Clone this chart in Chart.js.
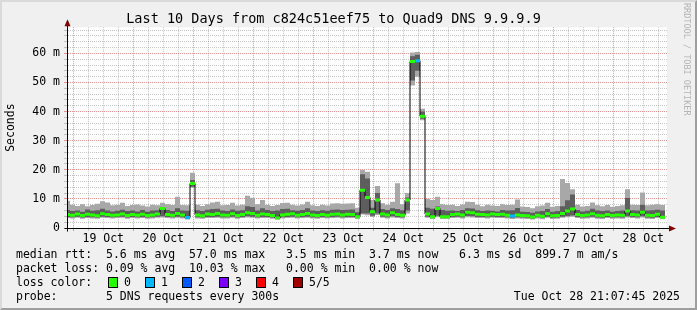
<!DOCTYPE html>
<html>
<head>
<meta charset="utf-8">
<script src="https://cdn.jsdelivr.net/npm/chart.js@4.4.1/dist/chart.umd.min.js"></script>
<style>
  html, body { margin: 0; padding: 0; background: #f0f0f0; }
  #wrap { position: relative; width: 697px; height: 310px; overflow: hidden; background: #f0f0f0;
          font-family: 'DejaVu Sans Mono', monospace; color: #000; }
  #wrap canvas { position: absolute; left: 0; top: 0; }
  .row { position: absolute; left: 16px; font-size: 11.5px; line-height: 14px; white-space: pre; }
  .box { position: absolute; top: 277px; width: 8px; height: 9px; border: 1px solid #000; }
  .lab { position: absolute; top: 275px; font-size: 11.5px; line-height: 14px; white-space: pre; }
  #date { position: absolute; right: 17px; top: 289px; font-size: 11.5px; line-height: 14px; white-space: pre; }
  #mark { position: absolute; left: 682px; top: 3px; font-size: 8.5px; line-height: 9px;
          writing-mode: vertical-rl; color: #b4b4b4; white-space: pre; }
  #frame { position: absolute; left: 0; top: 0; width: 697px; height: 310px; box-sizing: border-box;
           border: 2px solid; border-color: #dadada #9e9e9e #9e9e9e #dadada; pointer-events: none; }
</style>
</head>
<body>
<div id="wrap">
  <canvas id="myChart" width="697" height="310"></canvas>
  <div class="row" style="top:247px">median rtt:  5.6 ms avg  57.0 ms max   3.5 ms min  3.7 ms now   6.3 ms sd  899.7 m am/s</div>
  <div class="row" style="top:261px">packet loss: 0.09 % avg  10.03 % max   0.00 % min  0.00 % now</div>
  <div class="row" style="top:275px">loss color:</div>
  <div id="lossLegend"></div>
  <div class="row" style="top:289px">probe:       5 DNS requests every 300s</div>
  <div id="date">Tue Oct 28 21:07:45 2025</div>
  <div id="mark">RRDTOOL / TOBI OETIKER</div>
  <div id="frame"></div>
</div>
<script>
// hours since 19 Oct 00:00, one step = 2 hours
const startHour = -3.3;
const stepHours = 2;

// light smoke (outer pings), ms
const hi = [9.4, 8.0, 7.6, 8.2, 7.5, 7.9, 8.3, 9.2, 8.8, 7.8,
  8.0, 8.7, 7.6, 7.9, 8.1, 7.7, 7.4, 8.0, 7.8, 8.7,
  8.2, 7.9, 10.7, 7.9, 7.8, 19.0, 8.0, 7.6, 8.2, 8.8,
  9.0, 7.8, 7.9, 8.7, 7.7, 8.0, 11.1, 10.4, 8.2, 9.6,
  8.0, 7.6, 7.9, 8.6, 8.7, 8.0, 7.7, 8.1, 9.0, 7.8,
  7.6, 8.0, 7.7, 8.4, 8.5, 8.3, 8.4, 8.5, 7.0, 19.9,
  19.3, 9.6, 14.4, 8.5, 8.0, 9.0, 15.4, 8.2, 12.0, 60.3,
  60.5, 41.0, 10.0, 9.6, 10.7, 8.2, 7.9, 8.0, 7.6, 8.1,
  9.0, 8.9, 8.0, 7.5, 8.0, 7.7, 7.6, 8.2, 7.9, 8.0,
  9.8, 7.4, 7.2, 6.8, 7.5, 7.7, 8.7, 7.3, 7.6, 16.8,
  15.5, 13.3, 8.0, 7.4, 7.6, 8.8, 7.8, 7.5, 7.9, 7.3,
  7.6, 7.8, 13.3, 8.0, 7.9, 12.2, 7.8, 8.0, 8.2, 7.9, 7.9];
const lo = [3.4, 3.3, 3.5, 3.2, 3.4, 3.3, 3.2, 3.5, 3.4, 3.3,
  3.4, 3.5, 3.2, 3.4, 3.3, 3.4, 3.2, 3.3, 3.5, 3.6,
  3.4, 3.3, 3.5, 3.3, 2.9, 13.8, 3.3, 3.2, 3.4, 3.4,
  3.5, 3.3, 3.3, 3.5, 3.2, 3.4, 3.6, 3.5, 3.3, 3.4,
  3.4, 3.2, 2.9, 3.3, 3.4, 3.5, 3.3, 3.4, 3.5, 3.3,
  3.2, 3.4, 3.3, 3.4, 3.5, 3.3, 3.4, 3.4, 3.1, 4.6,
  4.4, 3.8, 4.5, 3.5, 3.3, 3.6, 3.4, 3.3, 5.0, 49.0,
  52.0, 37.0, 3.5, 3.1, 3.8, 3.1, 3.1, 3.4, 3.5, 3.3,
  3.7, 3.6, 3.4, 3.4, 3.3, 3.5, 3.4, 3.4, 3.3, 3.1,
  3.3, 3.2, 3.1, 2.9, 3.3, 3.0, 3.5, 3.1, 3.2, 3.5,
  3.7, 3.9, 3.4, 3.2, 3.3, 3.5, 3.2, 3.1, 3.4, 3.2,
  3.3, 3.2, 3.6, 3.4, 3.3, 3.6, 3.2, 3.1, 3.4, 3.0, 3.0];

// dark smoke (inner pings), ms
const dhi = [6.2, 5.8, 6.0, 5.6, 6.4, 5.9, 6.1, 6.6, 6.0, 5.7,
  5.9, 6.3, 5.8, 6.0, 5.7, 6.2, 5.6, 6.0, 6.1, 7.0,
  6.2, 5.8, 6.8, 6.0, 5.9, 16.5, 6.1, 5.8, 6.3, 6.5,
  6.6, 6.0, 5.8, 6.4, 5.9, 6.1, 7.5, 7.2, 6.0, 6.8,
  6.2, 5.8, 6.0, 6.5, 6.6, 6.1, 5.9, 6.2, 6.8, 6.0,
  5.8, 6.1, 5.9, 6.3, 6.4, 6.2, 6.3, 6.4, 5.4, 18.5,
  17.0, 7.0, 12.0, 6.5, 6.2, 6.8, 6.5, 6.1, 10.5, 59.0,
  59.5, 40.0, 7.0, 6.6, 7.4, 6.2, 5.9, 6.0, 5.8, 6.2,
  6.8, 6.7, 6.1, 5.8, 6.0, 5.9, 5.7, 6.2, 6.0, 6.1,
  6.9, 5.6, 5.5, 5.2, 5.7, 5.8, 6.5, 5.6, 5.8, 7.5,
  9.5, 11.5, 6.2, 5.7, 5.9, 6.6, 6.0, 5.8, 6.0, 5.6,
  5.8, 6.0, 10.3, 6.1, 6.0, 8.0, 6.0, 6.1, 6.3, 6.0, 6.0];
const dlo = [3.8, 3.7, 3.9, 3.6, 3.8, 3.7, 3.6, 3.9, 3.8, 3.7,
  3.8, 3.9, 3.6, 3.8, 3.7, 3.8, 3.6, 3.7, 3.9, 4.0,
  3.8, 3.7, 3.9, 3.7, 3.3, 14.2, 3.7, 3.6, 3.8, 3.8,
  3.9, 3.7, 3.7, 3.9, 3.6, 3.8, 4.0, 3.9, 3.7, 3.8,
  3.8, 3.6, 3.2, 3.7, 3.8, 3.9, 3.7, 3.8, 3.9, 3.7,
  3.6, 3.8, 3.7, 3.8, 3.9, 3.7, 3.8, 3.8, 3.4, 5.0,
  5.0, 4.2, 5.0, 3.9, 3.7, 4.0, 3.8, 3.7, 6.0, 50.7,
  54.0, 37.5, 3.9, 3.5, 4.2, 3.5, 3.5, 3.8, 3.9, 3.7,
  4.1, 4.0, 3.8, 3.8, 3.7, 3.9, 3.8, 3.8, 3.7, 3.5,
  3.7, 3.6, 3.5, 3.3, 3.7, 3.4, 3.9, 3.5, 3.6, 3.9,
  4.1, 4.3, 3.8, 3.6, 3.7, 3.9, 3.6, 3.5, 3.8, 3.6,
  3.7, 3.6, 4.0, 3.8, 3.7, 4.0, 3.6, 3.5, 3.8, 3.4, 3.4];

// median rtt, ms
const med = [4.6, 4.4, 4.8, 4.3, 4.7, 4.5, 4.2, 4.9, 4.6, 4.4,
  4.5, 4.8, 4.3, 4.6, 4.4, 4.7, 4.3, 4.5, 4.8, 6.7,
  4.6, 4.4, 5.0, 4.5, 3.6, 15.3, 4.5, 4.2, 4.8, 4.6,
  5.0, 4.5, 4.4, 4.9, 4.3, 4.6, 5.2, 5.0, 4.4, 4.8,
  4.6, 4.3, 3.4, 4.5, 4.7, 4.9, 4.4, 4.6, 5.0, 4.5,
  4.3, 4.6, 4.4, 4.7, 4.8, 4.5, 4.7, 4.6, 3.9, 13.0,
  10.5, 5.6, 9.6, 4.8, 4.5, 5.2, 4.6, 4.4, 9.6, 57.2,
  57.5, 38.4, 4.8, 3.9, 6.7, 3.9, 3.9, 4.6, 4.8, 4.5,
  5.4, 5.2, 4.7, 4.6, 4.5, 4.8, 4.6, 4.7, 4.4, 4.1,
  4.5, 4.3, 4.2, 3.8, 4.4, 4.0, 4.9, 4.2, 4.3, 5.0,
  5.8, 6.5, 4.6, 4.3, 4.5, 4.9, 4.4, 4.2, 4.6, 4.3,
  4.5, 4.4, 5.8, 4.6, 4.5, 5.4, 4.4, 4.3, 4.7, 3.7, 3.7];

// lost pings per step (0..5)
const loss = [0, 0, 0, 0, 0, 0, 0, 0, 0, 0,
  0, 0, 0, 0, 0, 0, 0, 0, 0, 0,
  0, 0, 0, 0, 1, 0, 0, 0, 0, 0,
  0, 0, 0, 0, 0, 0, 0, 0, 0, 0,
  0, 0, 0, 0, 0, 0, 0, 0, 0, 0,
  0, 0, 0, 0, 0, 0, 0, 0, 0, 0,
  0, 0, 0, 0, 0, 0, 0, 0, 0, 0,
  1, 0, 0, 0, 0, 0, 0, 0, 0, 0,
  0, 0, 0, 0, 0, 0, 0, 0, 0, 1,
  0, 0, 0, 0, 0, 0, 0, 0, 0, 0,
  0, 0, 0, 0, 0, 0, 0, 0, 0, 0,
  0, 0, 0, 0, 0, 0, 0, 0, 0, 0, 0];

const dayLabels = ["19 Oct", "20 Oct", "21 Oct", "22 Oct", "23 Oct", "24 Oct", "25 Oct", "26 Oct", "27 Oct", "28 Oct"];
const yLabels = ["0", "10 m", "20 m", "30 m", "40 m", "50 m", "60 m"];
const lossNames = ["0", "1", "2", "3", "4", "5/5"];
const lossColors = ["#26ff00", "#00b8ff", "#0059ff", "#7e00ff", "#ff0000", "#a10000"];

const minorGrid = "rgba(143,143,143,0.5)";
const majorGrid = "rgba(222,80,80,0.6)";

// legend boxes
const boxX = [108, 145, 182, 219, 256, 293];
const legendDiv = document.getElementById("lossLegend");
lossNames.forEach((name, i) => {
  const b = document.createElement("div");
  b.className = "box";
  b.style.left = boxX[i] + "px";
  b.style.background = lossColors[i];
  legendDiv.appendChild(b);
  const l = document.createElement("div");
  l.className = "lab";
  l.style.left = (boxX[i] + 16) + "px";
  l.textContent = name;
  legendDiv.appendChild(l);
});

const times = med.map((_, i) => startHour + i * stepHours);
// each value holds from its own time to the next one
const pts = arr => arr.map((v, i) => ({ x: times[i], y: v }));

// median as short bars, one per step (no vertical parts)
const medBars = [];
for (let i = 0; i < med.length - 1; i++) {
  medBars.push({ x: times[i], y: med[i] }, { x: times[i + 1], y: med[i] }, { x: times[i + 1], y: null });
}

const xGrid = [];
for (let h = 0; h <= 234; h += 6) xGrid.push(h);
const yGrid = [];
for (let v = 0; v <= 68; v += 2) yGrid.push(v);

const plotBg = {
  id: "plotBg",
  beforeDraw(chart) {
    const { ctx, chartArea: a } = chart;
    ctx.save();
    ctx.fillStyle = "#ffffff";
    ctx.fillRect(a.left, a.top, a.right - a.left, a.bottom - a.top);
    ctx.restore();
  }
};

const axisArrows = {
  id: "axisArrows",
  afterDraw(chart) {
    const { ctx, chartArea: a } = chart;
    const x0 = Math.round(a.left) + 0.5, y0 = Math.round(a.bottom) + 0.5;
    ctx.save();
    ctx.strokeStyle = "#000";
    ctx.lineWidth = 1;
    ctx.beginPath();
    ctx.moveTo(x0 - 3, y0); ctx.lineTo(a.right + 3, y0);
    ctx.moveTo(x0, y0 + 3); ctx.lineTo(x0, a.top - 2);
    ctx.stroke();
    ctx.fillStyle = "#7f0000";
    ctx.beginPath();
    ctx.moveTo(x0, a.top - 8); ctx.lineTo(x0 - 3, a.top - 1); ctx.lineTo(x0 + 3, a.top - 1);
    ctx.closePath(); ctx.fill();
    ctx.beginPath();
    ctx.moveTo(a.right + 9, y0); ctx.lineTo(a.right + 2, y0 - 3); ctx.lineTo(a.right + 2, y0 + 3);
    ctx.closePath(); ctx.fill();
    ctx.restore();
  }
};

Chart.defaults.font.family = "'DejaVu Sans Mono', monospace";
Chart.defaults.color = "#000";

const ctx = document.getElementById("myChart").getContext("2d");
const myChart = new Chart(ctx, {
  type: "line",
  data: {
    datasets: [
      {
        data: medBars,
        borderColor: lossColors[0],
        borderWidth: 3,
        borderCapStyle: "butt",
        pointRadius: 0,
        spanGaps: false,
        segment: { borderColor: c => lossColors[loss[Math.floor(c.p0DataIndex / 3)]] }
      },
      { data: pts(med), stepped: "before", borderColor: "#000", borderWidth: 1, pointRadius: 0 },
      { data: pts(dhi), stepped: "before", borderWidth: 0, borderColor: "transparent", pointRadius: 0, fill: "+1", backgroundColor: "#5e5e5e" },
      { data: pts(dlo), stepped: "before", borderWidth: 0, borderColor: "transparent", pointRadius: 0 },
      { data: pts(hi), stepped: "before", borderWidth: 0, borderColor: "transparent", pointRadius: 0, fill: "+1", backgroundColor: "#a8a8a8" },
      { data: pts(lo), stepped: "before", borderWidth: 0, borderColor: "transparent", pointRadius: 0 }
    ]
  },
  options: {
    responsive: false,
    animation: false,
    events: [],
    layout: { padding: { left: 0, right: 30, top: 0, bottom: 0 } },
    plugins: {
      legend: { display: false },
      tooltip: { enabled: false },
      title: {
        display: true,
        text: "Last 10 Days from c824c51eef75 to Quad9 DNS 9.9.9.9",
        color: "#000",
        font: { size: 13.5, weight: "normal" },
        padding: { top: 11, bottom: 0 }
      }
    },
    scales: {
      x: {
        type: "linear",
        min: -2.5,
        max: 237.5,
        afterBuildTicks: s => { s.ticks = xGrid.map(v => ({ value: v })); },
        afterFit: s => { s.height = 82; },
        grid: {
          color: c => (c.tick && c.tick.value % 24 === 0) ? majorGrid : minorGrid,
          tickColor: c => (c.tick && c.tick.value % 24 === 0) ? majorGrid : minorGrid,
          tickLength: 3
        },
        border: { color: "#000", dash: [1, 1] },
        ticks: {
          autoSkip: false,
          maxRotation: 0,
          padding: 1,
          font: { size: 11.5 },
          callback: v => (v % 24 === 12) ? dayLabels[(v - 12) / 24] : ""
        }
      },
      y: {
        min: 0,
        max: 69,
        afterBuildTicks: s => { s.ticks = yGrid.map(v => ({ value: v })); },
        afterFit: s => { s.width = 67; },
        grid: {
          color: c => (c.tick && c.tick.value % 10 === 0) ? majorGrid : minorGrid,
          tickColor: c => (c.tick && c.tick.value % 10 === 0) ? majorGrid : minorGrid,
          tickLength: 3
        },
        border: { color: "#000", dash: [1, 1] },
        ticks: {
          autoSkip: false,
          padding: 4,
          font: { size: 11.5 },
          callback: v => (v % 10 === 0) ? yLabels[v / 10] : ""
        },
        title: {
          display: true,
          text: "Seconds",
          color: "#000",
          font: { size: 11.5 },
          padding: { top: 4, bottom: 0 }
        }
      }
    }
  },
  plugins: [plotBg, axisArrows]
});
</script>
</body>
</html>
